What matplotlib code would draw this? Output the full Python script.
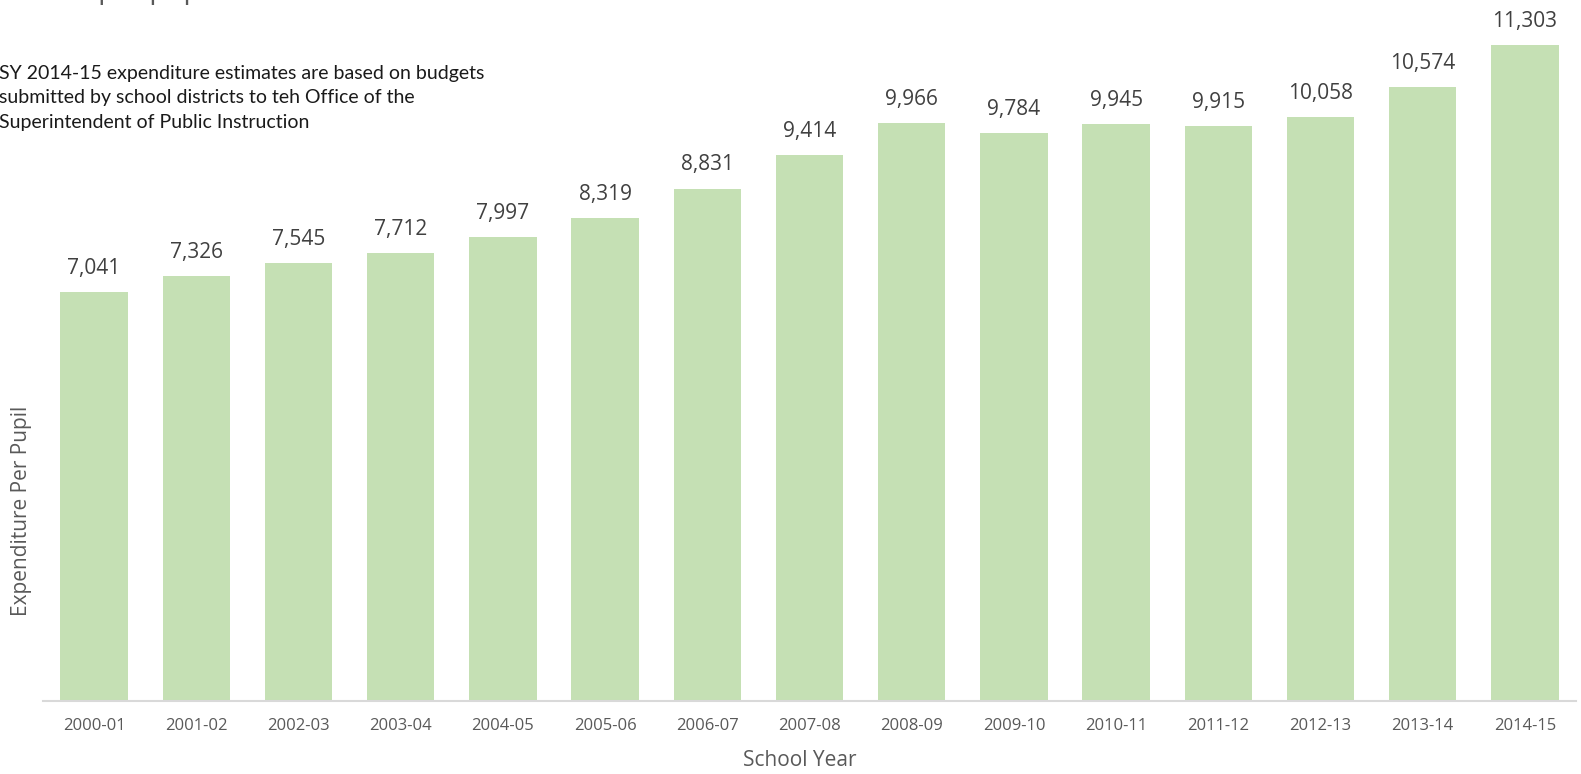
import matplotlib
matplotlib.use("Agg")
import matplotlib.pyplot as plt

years = ["2000-01", "2001-02", "2002-03", "2003-04", "2004-05", "2005-06", "2006-07",
         "2007-08", "2008-09", "2009-10", "2010-11", "2011-12", "2012-13", "2013-14", "2014-15"]
expenditure = [7041, 7326, 7545, 7712, 7997, 8319, 8831, 9414, 9966, 9784, 9945, 9915,
               10058, 10574, 11303]

note = ("SY 2014-15 expenditure estimates are based on budgets\n"
        "submitted by school districts to teh Office of the\n"
        "Superintendent of Public Instruction")

W, H = 1581, 774
fig = plt.figure(figsize=(W / 100, H / 100), dpi=100)
ax_left, ax_right = 43, 1576
ax_top, ax_bottom = 4.6, 701
ax = fig.add_axes([ax_left / W, (H - ax_bottom) / H, (ax_right - ax_left) / W, (ax_bottom - ax_top) / H])

x = list(range(len(years)))
ax.bar(x, expenditure, width=0.66, color="#C5E0B4", zorder=2)
ax.set_xlim(-0.5, len(years) - 0.5)
ax.set_ylim(0, 12000)

for xi, v in zip(x, expenditure):
    ax.annotate(f"{v:,}", (xi, v), xytext=(0, 13), textcoords="offset points",
                ha="center", va="baseline", fontsize=15, color="#404040", family="Open Sans")

for s in ["top", "right", "left"]:
    ax.spines[s].set_visible(False)
ax.spines["bottom"].set_color("#D9D9D9")
ax.spines["bottom"].set_linewidth(1.5)
ax.set_yticks([])
ax.set_xticks(x)
ax.set_xticklabels(years, fontsize=12, color="#595959", family="Open Sans")
ax.tick_params(axis="x", length=0, pad=12)

fig.text(800 / W, 1 - 761 / H, "School Year", ha="center", va="center",
         fontsize=15, color="#595959", family="Open Sans")
fig.text(22 / W, 1 - 511 / H, "Expenditure Per Pupil", ha="center", va="center",
         rotation=90, fontsize=15, color="#595959", family="Open Sans")

fig.text(-1 / W, 1 - 98 / H, note, ha="left", va="center", fontsize=14,
         color="#1a1a1a", family="Lato", linespacing=1.55)

# cut-off title at the very top: only descenders visible
renderer = fig.canvas.get_renderer()
prefix = fig.text(0, 0, "Dollars ", fontsize=20, family="Open Sans")
pw = prefix.get_window_extent(renderer).width
prefix.remove()
fig.text((98 - pw) / W, 1 + 2 / H, "Dollars per pupil", ha="left", va="baseline",
         fontsize=20, color="#595959", family="Open Sans")

fig.savefig("out.png", dpi=100)
